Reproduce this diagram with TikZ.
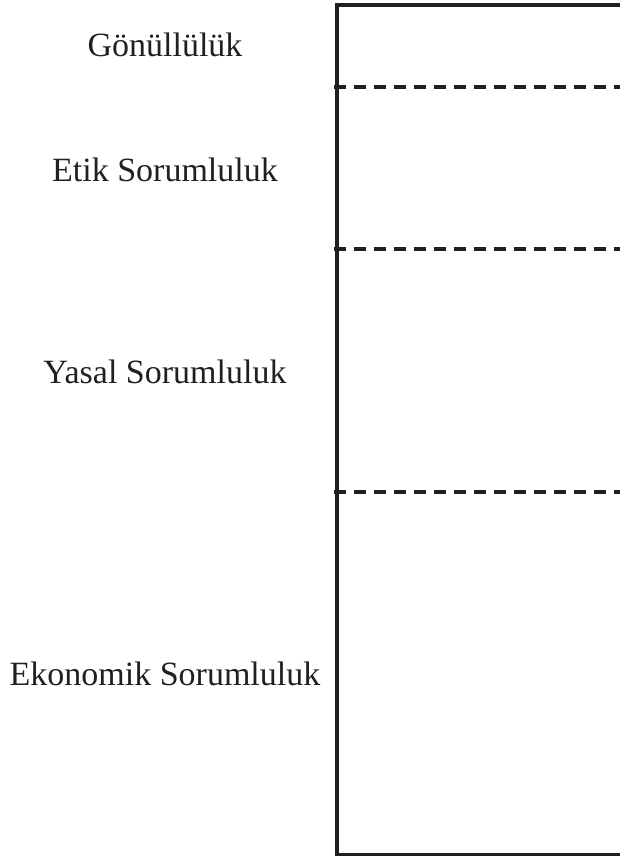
\documentclass[tikz,border=0pt]{standalone}
\usepackage{fontspec}
\setmainfont{Liberation Serif}
\definecolor{ink}{HTML}{231F20}
\begin{document}
\begin{tikzpicture}[x=1pt,y=-1pt,
  lbl/.style={font=\fontsize{34}{40}\selectfont, text=ink, anchor=base, inner sep=0pt},
  frame/.style={draw=ink, line width=3.6pt},
  divider/.style={draw=ink, line width=3.8pt, dash pattern=on 12pt off 8pt}]
\useasboundingbox (0,0) rectangle (620,856);
\coordinate (tr) at (620,5);
\coordinate (tl) at (337,5);
\coordinate (bl) at (337,854.5);
\coordinate (br) at (620,854.5);
\draw[frame] (tr) -- (tl) -- (bl) -- (br);
\foreach \yy/\nm in {87/a,249/b,492/c}{
  \coordinate (d\nm l) at (334,\yy);
  \coordinate (d\nm r) at (620,\yy);
  \draw[divider] (d\nm l) -- (d\nm r);
}
\node[lbl] (gon) at (165,57) {Gönüllülük};
\node[lbl] (etik) at (165,181) {Etik Sorumluluk};
\node[lbl] (yasal) at (165,383) {Yasal Sorumluluk};
\node[lbl] (eko) at (165,685) {Ekonomik Sorumluluk};
\end{tikzpicture}
\end{document}
